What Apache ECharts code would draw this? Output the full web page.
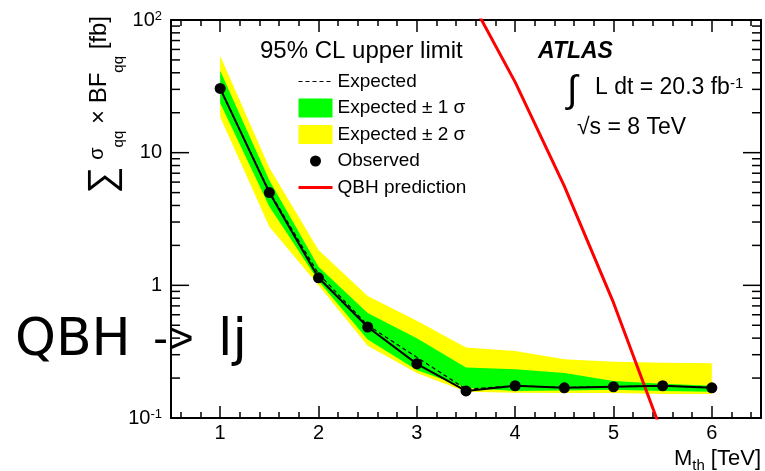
<!DOCTYPE html>
<html><head><meta charset="utf-8">
<script src="https://cdn.jsdelivr.net/npm/echarts@6/dist/echarts.min.js"></script>
<style>html,body{margin:0;padding:0;background:#fff}#c{width:765px;height:471px}</style>
</head><body><div id="c"></div>
<script>
// ---- data ----
const massPoints = [1, 1.5, 2, 2.5, 3, 3.5, 4, 4.5, 5, 5.5, 6];
const observed   = [30.5, 5.0, 1.14, 0.485, 0.256, 0.160, 0.175, 0.169, 0.172, 0.175, 0.169];
const expected   = [30, 5.1, 1.22, 0.50, 0.287, 0.165, 0.175, 0.170, 0.172, 0.175, 0.170];
const band1Lo    = [23.7, 3.92, 1.08, 0.39, 0.23, 0.169, 0.160, 0.161, 0.163, 0.160, 0.158];
const band1Hi    = [41.5, 6.2, 1.38, 0.62, 0.40, 0.24, 0.233, 0.218, 0.190, 0.181, 0.175];
const band2Lo    = [18.6, 2.77, 1.00, 0.35, 0.218, 0.158, 0.155, 0.154, 0.154, 0.152, 0.152];
const band2Hi    = [53.8, 7.7, 1.85, 0.83, 0.54, 0.34, 0.32, 0.277, 0.265, 0.261, 0.259];
const qbhMass    = [3.5, 4, 4.5, 5, 5.5];
const qbhXsec    = [165, 34, 5.6, 0.74, 0.075];
const xTickValues = [1, 2, 3, 4, 5, 6];
const xTickLabels = ['1', '2', '3', '4', '5', '6'];
const yTickValues = [0.1, 1, 10, 100];
const yTickLabels = ['10{sup|-1}', '1', '10', '10{sup|2}'];
const yMinorTicks = [0.2,0.3,0.4,0.5,0.6,0.7,0.8,0.9,2,3,4,5,6,7,8,9,20,30,40,50,60,70,80,90];
const seriesNames = ['Expected', 'Expected \u00b1 1 \u03c3', 'Expected \u00b1 2 \u03c3', 'Observed', 'QBH prediction'];

const FF = '"Liberation Sans", Arial, Helvetica, sans-serif';
const HAND = '"DejaVu Sans", sans-serif';
const chart = echarts.init(document.getElementById('c'), null, {renderer: 'canvas'});

function xFmt(v) {
  const i = xTickValues.findIndex(t => Math.abs(t - v) < 1e-9);
  return i >= 0 ? xTickLabels[i] : '';
}
function yFmt(v) {
  const i = yTickValues.findIndex(t => Math.abs(Math.log10(t) - Math.log10(v)) < 1e-6);
  return i >= 0 ? yTickLabels[i] : '';
}
function xAxisDef(pos, labels) {
  return {
    type: 'value', position: pos, min: 0.5, max: 6.5,
    axisLine: {show: true, onZero: false, lineStyle: {color: '#000', width: 2}},
    axisTick: {show: true, inside: true, length: 12, lineStyle: {color: '#000', width: 1.5}},
    minorTick: {show: true, splitNumber: 5, length: 6, lineStyle: {color: '#000', width: 1.5}},
    splitLine: {show: false}, minorSplitLine: {show: false},
    axisLabel: labels ? {show: true, formatter: xFmt, margin: 5, color: '#000', fontSize: 20, fontFamily: FF,
      showMinLabel: false, showMaxLabel: false} : {show: false},
    name: labels ? 'M{sub|th} [TeV]' : '',
    nameLocation: 'end', nameGap: 0, nameMoveOverlap: false,
    nameTextStyle: {align: 'right', verticalAlign: 'top', padding: [26, 0, 0, 0], color: '#000', fontSize: 22, fontFamily: FF,
      rich: {sub: {fontSize: 15, fontFamily: FF, color: '#000', padding: [14, 0, 0, 0]}}}
  };
}
function yAxisDef(pos, labels) {
  return {
    type: 'log', logBase: 10, position: pos, min: 0.1, max: 100,
    axisLine: {show: true, onZero: false, lineStyle: {color: '#000', width: 2}},
    axisTick: {show: false},
    splitLine: {show: false},
    axisLabel: labels ? {show: true, formatter: yFmt, margin: 9, color: '#000', fontSize: 20, fontFamily: FF,
      rich: {sup: {fontSize: 13, fontFamily: FF, color: '#000', verticalAlign: 'top'}}} : {show: false}
  };
}
function bandSeries(name, lo, hi, color) {
  return {
    type: 'custom', name: name, xAxisIndex: 0, yAxisIndex: 0, z: 1,
    itemStyle: {color: color}, silent: true,
    data: [[massPoints[0], lo[0]]],
    renderItem: function (params, api) {
      const pts = [];
      for (let i = 0; i < massPoints.length; i++) pts.push(api.coord([massPoints[i], hi[i]]));
      for (let i = massPoints.length - 1; i >= 0; i--) pts.push(api.coord([massPoints[i], lo[i]]));
      return {type: 'polygon', shape: {points: pts}, style: {fill: color}};
    }
  };
}
// log-axis ticks (major at decades, minor at 2..9) on both left and right frame, placed via the y scale
const yTickRows = yTickValues.concat(yMinorTicks).map(v => [massPoints[0], v]);
const yTickSeries = {
  type: 'custom', name: 'yticks', xAxisIndex: 0, yAxisIndex: 0, z: 10, silent: true, clip: false,
  data: yTickRows,
  renderItem: function (params, api) {
    const cs = params.coordSys;
    const v = api.value(1);
    const major = yTickValues.some(t => Math.abs(Math.log10(t) - Math.log10(v)) < 1e-6);
    const len = major ? 18 : 9;
    const y = api.coord([api.value(0), v])[1];
    const st = {stroke: '#000', lineWidth: 1.5};
    return {type: 'group', children: [
      {type: 'line', shape: {x1: cs.x, y1: y, x2: cs.x + len, y2: y}, style: st},
      {type: 'line', shape: {x1: cs.x + cs.width, y1: y, x2: cs.x + cs.width - len, y2: y}, style: st}
    ]};
  }
};

const option = {
  animation: false,
  backgroundColor: '#fff',
  grid: {left: 171, right: 4, top: 20, bottom: 53, containLabel: false, outerBoundsMode: 'none'},
  xAxis: [xAxisDef('bottom', true), xAxisDef('top', false)],
  yAxis: [yAxisDef('left', true), yAxisDef('right', false)],
  legend: {
    left: 297, top: 72, orient: 'vertical', padding: 0, itemWidth: 34, itemHeight: 19, itemGap: 7.5,
    selectedMode: false,
    textStyle: {fontSize: 19, color: '#000', fontFamily: FF},
    data: [
      {name: seriesNames[0], itemStyle: {opacity: 0}, lineStyle: {type: [4, 3], width: 1, color: '#000'}},
      {name: seriesNames[1], icon: 'rect'},
      {name: seriesNames[2], icon: 'rect'},
      {name: seriesNames[3], icon: 'path://M0,0M34,19M11.5,9.5A5.5,5.5,0,1,0,22.5,9.5A5.5,5.5,0,1,0,11.5,9.5Z'},
      {name: seriesNames[4], itemStyle: {opacity: 0}, lineStyle: {width: 3, color: '#ff0000'}}
    ]
  },
  series: [
    bandSeries(seriesNames[2], band2Lo, band2Hi, '#ffff00'),
    bandSeries(seriesNames[1], band1Lo, band1Hi, '#00ff00'),
    {
      type: 'line', name: seriesNames[0], z: 3, symbol: 'none', silent: true,
      data: massPoints.map((m, i) => [m, expected[i]]),
      lineStyle: {color: '#000', width: 1.2, type: [4, 3]}, itemStyle: {color: '#000'}
    },
    {
      type: 'line', name: seriesNames[4], z: 4, symbol: 'none', silent: true, clip: true,
      data: qbhMass.map((m, i) => [m, qbhXsec[i]]),
      lineStyle: {color: '#ff0000', width: 3}, itemStyle: {color: '#ff0000'}
    },
    {
      type: 'line', name: seriesNames[3], z: 5, symbol: 'circle', symbolSize: 11, showSymbol: true, silent: true,
      data: massPoints.map((m, i) => [m, observed[i]]),
      lineStyle: {color: '#000', width: 2}, itemStyle: {color: '#000'}
    },
    yTickSeries
  ],
  graphic: [
    {type: 'text', x: 260, y: 51.5, z: 50, silent: true,
     style: {text: '95% CL upper limit', fontSize: 24, fontFamily: FF, fill: '#000', align: 'left', verticalAlign: 'middle'}},
    {type: 'text', x: 538, y: 51.5, z: 50, silent: true,
     style: {text: 'ATLAS', fontSize: 23, fontWeight: 'bold', fontStyle: 'italic', fontFamily: FF, fill: '#000', align: 'left', verticalAlign: 'middle'}},
    {type: 'text', x: 567, y: 92, z: 50, silent: true,
     style: {text: '\u222b', fontSize: 38, fontFamily: FF, fill: '#000', align: 'left', verticalAlign: 'middle'}},
    {type: 'text', x: 595, y: 88, z: 50, silent: true,
     style: {text: '{t|L dt = 20.3 fb}{sup|-1}', fontSize: 23, fontFamily: FF, fill: '#000', align: 'left', verticalAlign: 'middle',
       rich: {t: {fontSize: 23, fontFamily: FF, fill: '#000'}, sup: {fontSize: 15, fontFamily: FF, fill: '#000', verticalAlign: 'top'}}}},
    {type: 'text', x: 577, y: 127.5, z: 50, silent: true,
     style: {text: '\u221as = 8 TeV', fontSize: 23, fontFamily: FF, fill: '#000', align: 'left', verticalAlign: 'middle'}},
    {type: 'text', x: 99, y: 16, rotation: Math.PI / 2, z: 50, silent: true,
     style: {text: '{sum|\u2211}{sig|\u03c3}{sub|qq}{t| \u00d7 BF}{sub|qq}{t| [fb]}', fontSize: 24, fontFamily: FF, fill: '#000',
       align: 'right', verticalAlign: 'middle',
       rich: {
         sum: {fontSize: 38, fontFamily: FF, fill: '#000', padding: [9, 7, 0, 0]},
         sig: {fontSize: 20, fontFamily: FF, fill: '#000', padding: [0, 0, 3, 0]},
         sub: {fontSize: 15, fontFamily: FF, fill: '#000', padding: [40, 0, 0, 0]},
         t: {fontSize: 24, fontFamily: FF, fill: '#000'}
       }}},
    {type: 'text', x: 15, y: 341, z: 100, silent: true,
     style: {text: '{a|QBH }{b|->}{a| lj}', fontSize: 52, fontFamily: HAND, fill: '#000', align: 'left', verticalAlign: 'middle',
       rich: {
         a: {fontSize: 52, fontFamily: HAND, fill: '#000'},
         b: {fontSize: 44, fontFamily: FF, fill: '#000', padding: [0, 8, 0, 6]}
       }}}
  ]
};
chart.setOption(option);
</script>
</body></html>
